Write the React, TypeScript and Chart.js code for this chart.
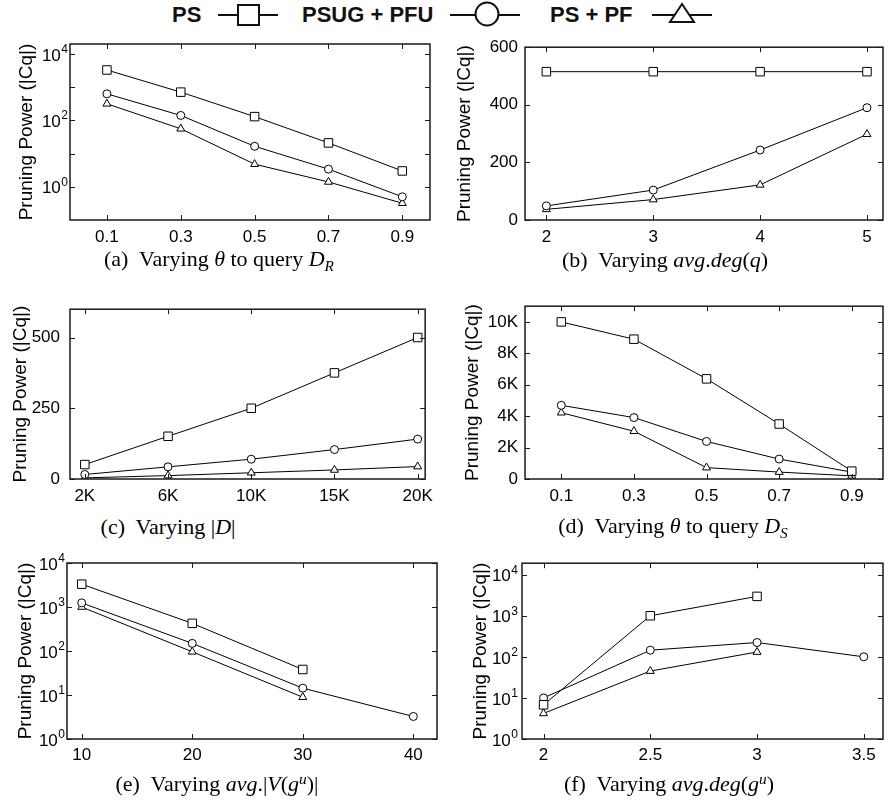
import React, { useEffect, useRef } from 'react';
import { Chart, registerables } from 'chart.js';

Chart.register(...registerables);

// ---------------- data ----------------
const SERIES = ['PS', 'PSUG + PFU', 'PS + PF'];

// (a) Varying theta to query D_R
const thetaR = [0.1, 0.3, 0.5, 0.7, 0.9];
const thetaRLabels = ['0.1', '0.3', '0.5', '0.7', '0.9'];
const aPS = [3300, 710, 130, 21, 3.0];
const aPSUG = [630, 141, 16.6, 3.4, 0.5];
const aPSPF = [316, 56, 4.8, 1.4, 0.32];

// (b) Varying avg.deg(q)
const degQ = [2, 3, 4, 5];
const degQLabels = ['2', '3', '4', '5'];
const bPS = [515, 515, 515, 515];
const bPSUG = [49, 104, 243, 390];
const bPSPF = [37, 71, 122, 298];

// (c) Varying |D|
const dbSizes = ['2K', '6K', '10K', '15K', '20K'];
const cPS = [51, 151, 250, 375, 500];
const cPSUG = [16, 43, 70, 104, 141];
const cPSPF = [4, 12, 22, 32, 44];

// (d) Varying theta to query D_S
const thetaS = [0.1, 0.3, 0.5, 0.7, 0.9];
const thetaSLabels = ['0.1', '0.3', '0.5', '0.7', '0.9'];
const dPS = [10000, 8900, 6375, 3500, 500];
const dPSUG = [4690, 3910, 2390, 1270, 440];
const dPSPF = [4220, 3040, 725, 440, 200];

// (e) Varying avg.|V(g^u)|
const avgV = [10, 20, 30, 40];
const avgVLabels = ['10', '20', '30', '40'];
const ePS = [3300, 425, 38, null];
const ePSUG = [1240, 149, 14.3, 3.25];
const ePSPF = [1000, 96, 8.9, null];

// (f) Varying avg.deg(g^u)
const avgDegG = [2, 2.5, 3, 3.5];
const avgDegGLabels = ['2', '2.5', '3', '3.5'];
const fPS = [6.8, 1000, 2960, null];
const fPSUG = [10, 145, 223, 100];
const fPSPF = [4.2, 45, 131, null];

// y tick values / labels ("base^exponent" for log axes)
const logTicks = [1, 10, 100, 1000, 10000];
const logLabelsAll = ['10^0', '10^1', '10^2', '10^3', '10^4'];
const logLabelsEven = ['10^0', '', '10^2', '', '10^4'];
const bTicks = [0, 200, 400, 600];
const bTickLabels = ['0', '200', '400', '600'];
const cTicks = [0, 250, 500];
const cTickLabels = ['0', '250', '500'];
const dTicks = [0, 2000, 4000, 6000, 8000, 10000];
const dTickLabels = ['0', '2K', '4K', '6K', '8K', '10K'];

// ---------------- style ----------------
const FONT_SANS = "'Liberation Sans', Arial, Helvetica, sans-serif";
const FONT_SERIF = "'Liberation Serif', 'Times New Roman', Times, serif";
const POINT_STYLES = ['rect', 'circle', 'triangle'];
const POINT_RADII = [6, 4, 4.6];
const PAD_T = 14;
const X_H = 34;
const TICK_SIZE = 17;
const EXP_SIZE = 12;

type Spec = {
  l: number; t: number; r: number; b: number;
  canvasLeft: number; padR: number;
  yGap: number; titleCenter: number; xPad: number;
  xMin: number; xMax: number; xTicks: number[]; xLabels: string[];
  yType: 'linear' | 'logarithmic'; yMin: number; yMax: number; yTicks: number[]; yLabels: string[];
  xs: number[]; series: (number | null)[][];
};

function makeFramePlugin(spec: Spec) {
  return {
    id: 'gnuplotFrame',
    afterDraw(chart: any) {
      const { ctx, chartArea } = chart;
      const { left, right, top, bottom } = chartArea;
      const xs = chart.scales.x;
      const ys = chart.scales.y;
      const TL = 5;
      ctx.save();
      ctx.strokeStyle = '#1a1a1a';
      ctx.lineWidth = 1;
      ctx.beginPath();
      xs.ticks.forEach((t: any) => {
        const p = Math.round(xs.getPixelForValue(t.value)) + 0.5;
        ctx.moveTo(p, bottom);
        ctx.lineTo(p, bottom - TL);
        ctx.moveTo(p, top);
        ctx.lineTo(p, top + TL);
      });
      ys.ticks.forEach((t: any) => {
        const p = Math.round(ys.getPixelForValue(t.value)) + 0.5;
        ctx.moveTo(left, p);
        ctx.lineTo(left + TL, p);
        ctx.moveTo(right, p);
        ctx.lineTo(right - TL, p);
      });
      ctx.stroke();
      ctx.lineWidth = 1.5;
      ctx.strokeRect(left, top, right - left, bottom - top);

      // power-of-ten tick labels (base + raised exponent)
      ctx.fillStyle = '#000';
      ys.ticks.forEach((t: any, i: number) => {
        const lab = spec.yLabels[i];
        if (!lab || lab.indexOf('^') < 0) return;
        const [base, exp] = lab.split('^');
        const y = ys.getPixelForValue(t.value);
        const xr = left - spec.yGap;
        ctx.font = `${EXP_SIZE}px ${FONT_SANS}`;
        const ew = ctx.measureText(exp).width;
        ctx.textAlign = 'right';
        ctx.textBaseline = 'alphabetic';
        ctx.fillText(exp, xr, y - 1);
        ctx.font = `${TICK_SIZE}px ${FONT_SANS}`;
        ctx.textBaseline = 'middle';
        ctx.fillText(base, xr - ew - 0.5, y + 2);
      });
      ctx.restore();
    },
  };
}

function Panel({ spec }: { spec: Spec }) {
  const ref = useRef<HTMLCanvasElement>(null);
  const cw = spec.r + spec.padR - spec.canvasLeft;
  const ch = spec.b + X_H - (spec.t - PAD_T);
  useEffect(() => {
    if (!ref.current) return;
    const datasets = spec.series.map((ys, i) => ({
      label: SERIES[i],
      data: spec.xs.map((x, j) => ({ x, y: ys[j] })),
      borderColor: '#000',
      borderWidth: 1,
      pointStyle: POINT_STYLES[i],
      pointRadius: POINT_RADII[i],
      pointBackgroundColor: '#fff',
      pointBorderColor: '#000',
      pointBorderWidth: 1,
      fill: false,
      tension: 0,
    }));
    const tickFont = { family: FONT_SANS, size: TICK_SIZE };
    const chart = new Chart(ref.current, {
      type: 'line',
      data: { datasets } as any,
      options: {
        animation: false,
        responsive: false,
        maintainAspectRatio: false,
        layout: { padding: { left: 0, top: PAD_T, right: spec.padR, bottom: 0 } },
        plugins: { legend: { display: false }, tooltip: { enabled: false } },
        scales: {
          x: {
            type: 'linear',
            bounds: 'data',
            min: spec.xMin,
            max: spec.xMax,
            afterBuildTicks: (s: any) => {
              s.ticks = spec.xTicks.map((v) => ({ value: v }));
            },
            afterFit: (s: any) => {
              s.height = X_H;
            },
            grid: { display: false, drawTicks: false },
            border: { display: false },
            ticks: {
              autoSkip: false,
              maxRotation: 0,
              padding: spec.xPad,
              color: '#000',
              font: tickFont,
              callback: (_v: any, i: number) => spec.xLabels[i],
            },
          },
          y: {
            type: spec.yType,
            bounds: 'data',
            min: spec.yMin,
            max: spec.yMax,
            afterBuildTicks: (s: any) => {
              s.ticks = spec.yTicks.map((v) => ({ value: v }));
            },
            afterFit: (s: any) => {
              s.width = spec.l - spec.canvasLeft;
            },
            grid: { display: false, drawTicks: false },
            border: { display: false },
            ticks: {
              autoSkip: false,
              padding: spec.yGap,
              color: '#000',
              font: tickFont,
              callback: (_v: any, i: number) => {
                const lab = spec.yLabels[i];
                return lab.indexOf('^') >= 0 ? '' : lab;
              },
            },
            title: {
              display: true,
              text: 'Pruning Power (|Cq|)',
              color: '#000',
              font: { family: FONT_SANS, size: 19 },
              padding: { top: spec.titleCenter - spec.canvasLeft - 11.4, bottom: 0 },
            },
          },
        },
      } as any,
      plugins: [makeFramePlugin(spec)],
    });
    return () => chart.destroy();
  }, []);
  return (
    <canvas
      ref={ref}
      width={cw}
      height={ch}
      style={{ position: 'absolute', left: spec.canvasLeft, top: spec.t - PAD_T, width: cw, height: ch }}
    />
  );
}

const idx = (a: any[]) => a.map((_, i) => i);

const specs: Spec[] = [
  {
    l: 70, t: 44, r: 430, b: 220, canvasLeft: 0, padR: 10, yGap: 2, titleCenter: 27, xPad: 7,
    xMin: 0, xMax: 0.975, xTicks: thetaR, xLabels: thetaRLabels,
    yType: 'logarithmic', yMin: 0.1, yMax: 20000, yTicks: logTicks, yLabels: logLabelsEven,
    xs: thetaR, series: [aPS, aPSUG, aPSPF],
  },
  {
    l: 525, t: 44, r: 889, b: 220, canvasLeft: 445, padR: 1, yGap: 7, titleCenter: 465, xPad: 7,
    xMin: 1.8, xMax: 5.15, xTicks: degQ, xLabels: degQLabels,
    yType: 'linear', yMin: 0, yMax: 600, yTicks: bTicks, yLabels: bTickLabels,
    xs: degQ, series: [bPS, bPSUG, bPSPF],
  },
  {
    l: 70, t: 303, r: 430, b: 479, canvasLeft: 0, padR: 10, yGap: 10, titleCenter: 21, xPad: 7,
    xMin: -0.178, xMax: 4.09, xTicks: idx(dbSizes), xLabels: dbSizes,
    yType: 'linear', yMin: 0, yMax: 600, yTicks: cTicks, yLabels: cTickLabels,
    xs: idx(dbSizes), series: [cPS, cPSUG, cPSPF],
  },
  {
    l: 525, t: 303, r: 889, b: 479, canvasLeft: 445, padR: 1, yGap: 7, titleCenter: 473, xPad: 7,
    xMin: 0, xMax: 0.986, xTicks: thetaS, xLabels: thetaSLabels,
    yType: 'linear', yMin: 0, yMax: 11000, yTicks: dTicks, yLabels: dTickLabels,
    xs: thetaS, series: [dPS, dPSUG, dPSPF],
  },
  {
    l: 67, t: 563, r: 437, b: 739, canvasLeft: 0, padR: 10, yGap: 2, titleCenter: 26, xPad: 6,
    xMin: 8.67, xMax: 42.14, xTicks: avgV, xLabels: avgVLabels,
    yType: 'logarithmic', yMin: 1, yMax: 10000, yTicks: logTicks, yLabels: logLabelsAll,
    xs: avgV, series: [ePS, ePSUG, ePSPF],
  },
  {
    l: 522, t: 563, r: 889, b: 739, canvasLeft: 445, padR: 1, yGap: 4, titleCenter: 481, xPad: 6,
    xMin: 1.899, xMax: 3.59, xTicks: avgDegG, xLabels: avgDegGLabels,
    yType: 'logarithmic', yMin: 1, yMax: 19000, yTicks: logTicks, yLabels: logLabelsAll,
    xs: avgDegG, series: [fPS, fPSUG, fPSPF],
  },
];

const I = ({ children }: { children: any }) => <span style={{ fontStyle: 'italic' }}>{children}</span>;
const Sub = ({ children }: { children: any }) => (
  <span style={{ fontStyle: 'italic', fontSize: '0.7em', position: 'relative', top: '0.3em' }}>{children}</span>
);
const Sup = ({ children }: { children: any }) => (
  <span style={{ fontStyle: 'italic', fontSize: '0.7em', position: 'relative', top: '-0.45em' }}>{children}</span>
);

const captions: { x: number; y: number; node: any }[] = [
  { x: 219, y: 260, node: <>(a)&nbsp; Varying <I>θ</I> to query <I>D</I><Sub>R</Sub></> },
  { x: 665, y: 260, node: <>(b)&nbsp; Varying <I>avg</I>.<I>deg</I>(<I>q</I>)</> },
  { x: 168, y: 527, node: <>(c)&nbsp; Varying |<I>D</I>|</> },
  { x: 673, y: 527, node: <>(d)&nbsp; Varying <I>θ</I> to query <I>D</I><Sub>S</Sub></> },
  { x: 217, y: 785, node: <>(e)&nbsp; Varying <I>avg</I>.|<I>V</I>(<I>g</I><Sup>u</Sup>)|</> },
  { x: 669, y: 785, node: <>(f)&nbsp; Varying <I>avg</I>.<I>deg</I>(<I>g</I><Sup>u</Sup>)</> },
];

function Legend() {
  const textStyle = (left: number): React.CSSProperties => ({
    position: 'absolute', left, top: 15, transform: 'translateY(-50%)',
    fontFamily: FONT_SANS, fontWeight: 'bold', fontSize: 22, lineHeight: '26px', color: '#111', whiteSpace: 'nowrap',
  });
  return (
    <>
      <div style={textStyle(172)}>{SERIES[0]}</div>
      <div style={textStyle(302)}>{SERIES[1]}</div>
      <div style={textStyle(550)}>{SERIES[2]}</div>
      <svg width={890} height={30} style={{ position: 'absolute', left: 0, top: 0 }}>
        <g stroke="#111" strokeWidth={2} fill="#fff">
          <line x1={218} y1={15} x2={278} y2={15} />
          <rect x={238} y={5} width={21} height={20} />
          <line x1={450} y1={15} x2={520} y2={15} />
          <circle cx={487} cy={14} r={11.5} />
          <line x1={652} y1={15} x2={712} y2={15} />
          <polygon points="682,4 670,22 694,22" />
        </g>
      </svg>
    </>
  );
}

export default function App() {
  return (
    <div style={{ position: 'absolute', left: 0, top: 0, width: 890, height: 806, background: '#fff', overflow: 'hidden' }}>
      <Legend />
      {specs.map((s, i) => (
        <Panel key={i} spec={s} />
      ))}
      {captions.map((c, i) => (
        <div
          key={i}
          style={{
            position: 'absolute', left: c.x, top: c.y, transform: 'translate(-50%, -50%)',
            fontFamily: FONT_SERIF, fontSize: 22, lineHeight: '26px', color: '#000', whiteSpace: 'nowrap',
          }}
        >
          {c.node}
        </div>
      ))}
    </div>
  );
}
